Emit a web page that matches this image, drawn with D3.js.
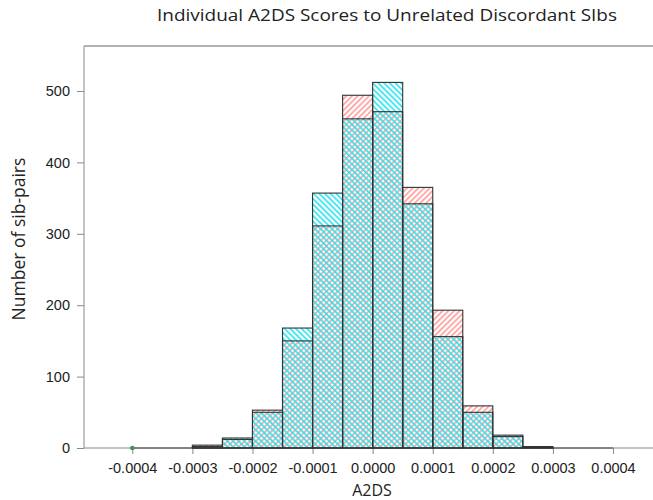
<!DOCTYPE html>
<html>
<head>
<meta charset="utf-8">
<style>
body { margin: 0; background: #fff; }
.tick text { font-family: "Liberation Sans", Arial, sans-serif; font-size: 14.5px; fill: #222; }
</style>
</head>
<body>
<div id="chart"></div>
<script src="https://d3js.org/d3.v7.min.js"></script>
<script>
// histogram bins (left edges), width 0.00005
var binStarts = [-0.0004, -0.00035, -0.0003, -0.00025, -0.0002, -0.00015, -0.0001, -0.00005,
                 0, 0.00005, 0.0001, 0.00015, 0.0002, 0.00025, 0.0003, 0.00035];
var binWidth = 0.00005;
var redCounts  = [0, 0, 4, 12, 53, 150, 311, 494, 471, 365, 193, 59, 16, 2, 0, 0];
var cyanCounts = [0, 0, 2, 14, 50, 168, 357, 461, 512, 342, 156, 50, 18, 1, 0, 0];
var markerX = [-0.0004];

var xTicks = [-0.0004, -0.0003, -0.0002, -0.0001, 0, 0.0001, 0.0002, 0.0003, 0.0004];
var xTickLabels = ["-0.0004", "-0.0003", "-0.0002", "-0.0001", "0.0000", "0.0001", "0.0002", "0.0003", "0.0004"];
var yTicks = [0, 100, 200, 300, 400, 500];

var width = 653, height = 500;
var plotLeft = 84, plotTop = 46, plotBottom = 448;

var svg = d3.select("#chart").append("svg")
    .attr("width", width)
    .attr("height", height);

var x = d3.scaleLinear()
    .domain([-0.0004, 0.0004])
    .range([132.3, 613]);

var y = d3.scaleLinear()
    .domain([0, 563])
    .range([plotBottom, plotTop]);

// hatch patterns
var defs = svg.append("defs");
function hatch(id, color, angle) {
  var p = defs.append("pattern")
      .attr("id", id)
      .attr("patternUnits", "userSpaceOnUse")
      .attr("width", 4).attr("height", 4)
      .attr("patternTransform", "rotate(" + angle + ")");
  p.append("rect")
      .attr("x", 0).attr("y", 0)
      .attr("width", 1.6).attr("height", 4)
      .attr("fill", color);
}
hatch("redHatch", "#ff9a9a", 45);
hatch("cyanHatch", "#22e4ee", -45);

var series = [
  {counts: redCounts, fill: "url(#redHatch)"},
  {counts: cyanCounts, fill: "url(#cyanHatch)"}
];

// fills
series.forEach(function(s) {
  svg.append("g").selectAll("rect")
    .data(binStarts)
    .enter().append("rect")
      .attr("x", function(d) { return x(d); })
      .attr("width", function(d) { return x(d + binWidth) - x(d); })
      .attr("y", function(d, i) { return y(s.counts[i]); })
      .attr("height", function(d, i) { return y(0) - y(s.counts[i]); })
      .attr("fill", s.fill);
});

// frame (top)
svg.append("line")
    .attr("x1", plotLeft).attr("x2", width + 5)
    .attr("y1", plotTop).attr("y2", plotTop)
    .attr("stroke", "#999").attr("stroke-width", 1.5);

// axes
var xAxis = svg.append("g")
    .attr("transform", "translate(0," + plotBottom + ")")
    .call(d3.axisBottom(x).tickValues(xTicks)
      .tickFormat(function(d, i) { return xTickLabels[i]; })
      .tickSize(6).tickSizeOuter(0).tickPadding(9));
xAxis.select(".domain").attr("d", "M" + plotLeft + ",0H" + (width + 5));
xAxis.selectAll(".domain, .tick line").attr("stroke", "#888");

var yAxis = svg.append("g")
    .attr("transform", "translate(" + plotLeft + ",0)")
    .call(d3.axisLeft(y).tickValues(yTicks).tickSize(7).tickSizeOuter(0).tickPadding(7));
yAxis.select(".domain").attr("d", "M0," + plotTop + "V" + plotBottom);
yAxis.selectAll(".domain, .tick line").attr("stroke", "#888");

// baseline under the (possibly empty) bins
svg.append("line")
    .attr("x1", x(binStarts[0]))
    .attr("x2", x(binStarts[binStarts.length - 1] + binWidth))
    .attr("y1", y(0)).attr("y2", y(0))
    .attr("stroke", "#444").attr("stroke-width", 1.1);

// outlines
series.forEach(function(s) {
  svg.append("g").selectAll("rect")
    .data(binStarts)
    .enter().append("rect")
      .attr("x", function(d) { return x(d); })
      .attr("width", function(d) { return x(d + binWidth) - x(d); })
      .attr("y", function(d, i) { return y(s.counts[i]); })
      .attr("height", function(d, i) { return y(0) - y(s.counts[i]); })
      .attr("fill", "none")
      .attr("stroke", "#333")
      .attr("stroke-width", 1.1);
});

svg.append("g").selectAll("circle")
  .data(markerX)
  .enter().append("circle")
    .attr("cx", function(d) { return x(d); })
    .attr("cy", y(0))
    .attr("r", 2.2)
    .attr("fill", "#2e9b4e");

// titles
svg.append("text")
    .attr("x", 387).attr("y", 21)
    .attr("text-anchor", "middle")
    .attr("font-family", "Open Sans, sans-serif")
    .attr("font-size", 16.5)
    .attr("textLength", 460)
    .attr("lengthAdjust", "spacingAndGlyphs")
    .attr("fill", "#222")
    .text("Individual A2DS Scores to Unrelated Discordant SIbs");

svg.append("text")
    .attr("x", 372).attr("y", 496)
    .attr("text-anchor", "middle")
    .attr("font-family", "Open Sans, sans-serif")
    .attr("font-size", 16)
    .attr("fill", "#222")
    .text("A2DS");

svg.append("text")
    .attr("transform", "translate(25,239) rotate(-90)")
    .attr("text-anchor", "middle")
    .attr("font-family", "Open Sans, sans-serif")
    .attr("font-size", 17.5)
    .attr("fill", "#222")
    .text("Number of sib-pairs");
</script>
</body>
</html>
